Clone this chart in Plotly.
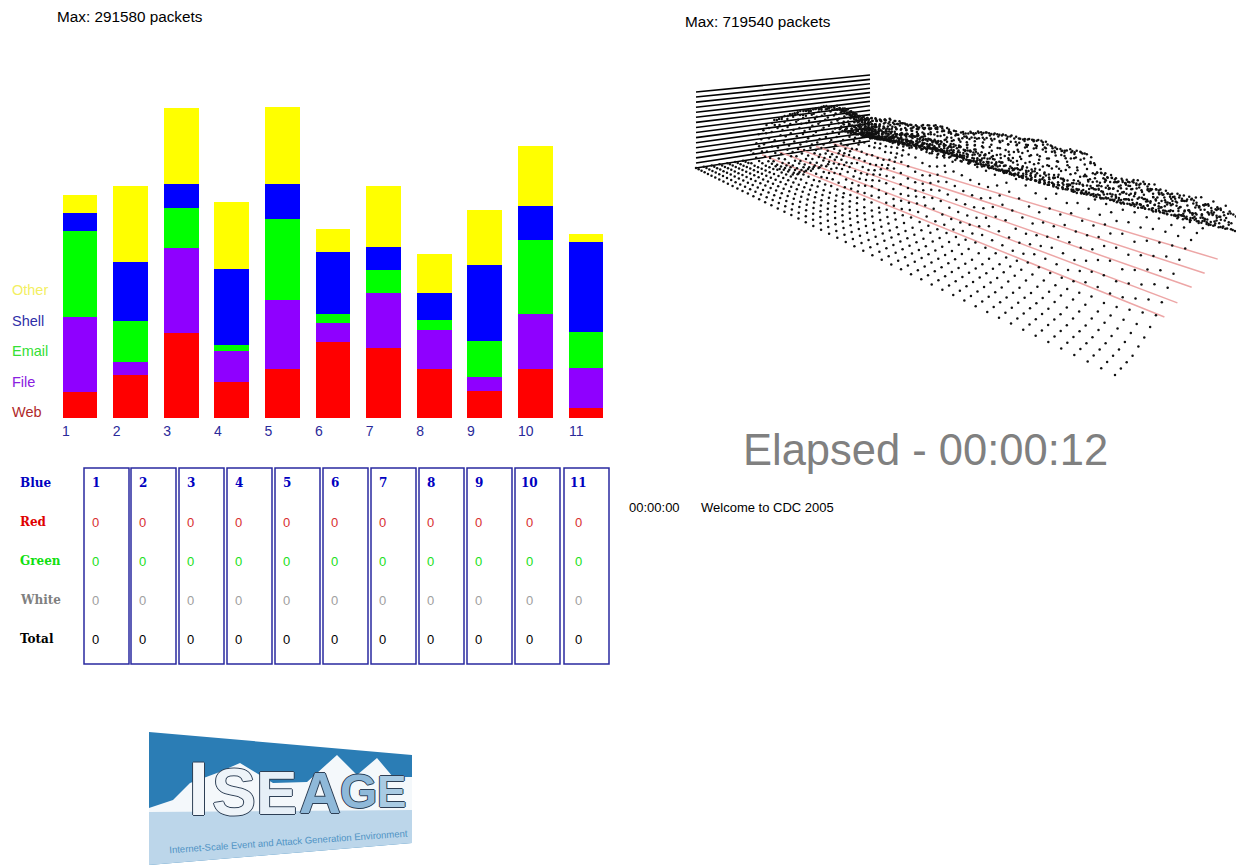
import numpy as np
import plotly.graph_objects as go

W, H = 1244, 865
OFF = 8                     # the page's own margin: the figure starts 8px in
PW, PH = W - OFF, H - OFF
# ---------- stacked bars (packets) ----------
teams = list(range(1, 12))
web   = [24400, 40300, 79700, 33800, 45900, 71300, 65600, 45900, 25300, 45900, 9400]
file_ = [70300, 12200, 79700, 29100, 64700, 17800, 51600, 36600, 13100, 51600, 37500]
email = [80600, 38400, 37500, 5600, 75900, 8400, 21600, 9400, 33800, 69400, 33800]
shell = [16900, 55300, 22500, 71300, 32800, 58100, 21600, 25300, 71300, 31900, 84400]
other = [16900, 71300, 71300, 62800, 72200, 21600, 57200, 36600, 51600, 56300, 7500]
bar_max = 291580
tick_labels = [str(t) for t in teams]
tick_offset = [-.277] * 9 + [-.19, -.19]

# ---------- scoreboard ----------
score_rows = ["Blue", "Red", "Green", "White", "Total"]
red_scores = [0] * 11
green_scores = [0] * 11
white_scores = [0] * 11
total_scores = [0] * 11

# ---------- 3D surface: heights in units of 10k packets ----------
surface_max = 719540
depth_flat = [0, .045, .09, .135]
depth_cols = [.18, .225, .27, .315, .36, .405, .45, .495, .54, .585, .63, .675, .72, .765, .81,
              .84, .87, .89, .91, .93, .95, .97, 1.0]
heights = [
[0,0,0,9,24,32,36,38,40,41,42,42,42,41,39,36,33,30,26,22,17,12,7],
[0,0,0,7,20,30,37,40,41,43,43,44,45,44,41,37,33,29,25,20,15,10,6],
[0,0,0,4,16,27,33,38,41,40,43,45,46,44,40,36,33,30,25,21,16,11,6],
[0,0,1,2,10,20,29,34,37,40,41,44,46,46,42,38,34,30,25,20,15,11,6],
[0,0,0,1,5,14,24,29,34,36,39,41,44,44,42,38,33,29,25,21,16,11,6],
[0,0,0,0,3,9,16,24,28,32,35,38,41,43,41,37,32,29,24,20,15,10,6],
[0,0,0,0,1,5,11,17,22,27,30,34,37,40,40,36,32,28,23,19,14,10,6],
[0,0,0,0,1,3,8,13,17,21,25,29,33,37,38,36,32,27,23,18,14,10,5],
[0,0,0,1,1,2,5,9,13,17,20,25,29,34,37,36,32,28,23,18,13,9,5],
[0,0,0,0,1,1,3,7,10,12,16,20,25,31,36,37,33,29,24,18,13,9,5],
[0,0,0,0,0,1,2,5,8,10,12,16,22,29,35,38,35,31,25,19,14,9,5],
[0,0,0,0,1,2,4,4,6,9,11,14,20,27,34,38,37,32,26,20,14,9,5],
[0,0,0,0,2,4,5,5,6,8,11,15,20,27,34,39,39,34,27,20,14,8,4],
[0,0,0,1,2,3,3,4,7,7,10,14,18,26,33,38,38,34,28,21,14,8,4],
[0,0,0,0,1,2,4,7,8,8,11,13,18,25,33,37,39,36,29,21,14,8,4],
[0,0,0,0,2,3,6,8,8,10,10,14,19,25,32,37,38,35,29,22,15,8,3],
[0,0,0,1,1,4,7,7,6,8,9,13,17,24,31,36,38,35,29,22,15,8,3],
[0,0,0,0,2,3,4,5,6,7,10,13,18,24,31,37,39,36,30,22,14,8,3],
[0,0,0,0,1,1,3,5,7,9,12,15,19,26,33,38,40,37,30,22,14,7,3],
[0,0,0,0,0,2,3,6,9,12,14,19,24,30,36,41,42,38,31,22,14,7,3],
[0,0,0,1,1,2,5,8,11,15,19,23,28,33,38,42,43,39,31,22,14,7,2],
[0,0,0,0,1,3,7,10,12,17,21,26,31,36,41,44,44,39,31,22,14,7,2],
[0,0,0,1,2,3,6,10,13,15,19,25,31,38,43,45,44,39,30,21,13,7,2],
[0,0,0,0,2,4,5,7,9,12,16,22,29,36,42,44,43,38,30,21,13,6,2],
[0,0,0,0,0,2,3,5,8,11,15,21,27,35,41,43,43,38,29,21,13,6,2],
[0,0,0,1,1,2,4,6,8,12,17,23,29,36,42,45,44,39,30,21,13,6,2],
[0,0,0,0,1,2,5,8,11,15,20,26,33,40,46,48,46,40,31,22,13,6,2],
[0,0,0,1,2,4,7,10,14,19,25,32,38,45,50,50,48,42,32,22,13,6,1],
[0,0,0,1,3,5,8,12,16,21,28,35,42,48,52,52,49,43,33,22,13,6,1],
[0,0,0,0,2,4,8,12,15,20,27,35,43,49,53,53,50,43,33,22,13,6,1],
[0,0,0,1,2,3,6,9,13,18,25,34,42,49,54,54,50,44,33,23,13,6,1],
[0,0,0,2,2,3,5,8,12,17,24,33,41,48,54,55,52,45,34,23,14,6,1],
[0,0,1,1,2,2,5,8,12,17,24,32,40,47,53,54,52,45,34,24,14,6,1],
[0,0,0,1,2,4,6,9,14,20,28,36,44,51,56,56,53,46,35,24,14,6,1],
[0,0,0,2,3,5,8,12,18,25,33,42,50,56,58,57,53,46,35,24,14,6,1],
[0,0,1,2,4,7,11,16,23,31,39,47,53,57,57,55,51,44,34,24,14,6,1],
[0,0,0,2,3,6,10,16,21,28,36,45,52,56,56,53,49,43,33,23,13,6,0],
[0,0,0,1,2,5,8,12,18,24,32,41,49,55,56,54,50,43,33,23,13,5,0],
[0,0,0,0,2,4,7,11,16,22,30,40,49,55,58,56,52,45,34,23,13,5,0],
[0,0,1,2,3,5,9,13,20,28,37,46,53,58,58,55,50,43,33,22,12,5,0],
[0,1,2,3,5,8,11,15,20,26,32,38,42,44,43,41,38,35,31,25,17,8,0],
[0,0,2,3,5,8,13,18,24,30,35,39,42,42,41,39,36,33,29,24,16,8,0],
[0,0,1,2,4,7,12,17,22,27,33,37,40,41,40,38,35,32,28,23,15,7,0],
[0,0,1,2,4,6,10,16,22,26,31,36,40,43,42,40,37,33,29,23,15,7,0],
[0,1,2,3,5,9,13,18,24,30,36,41,45,46,44,41,38,34,30,24,16,7,0],
[0,1,3,4,8,12,17,24,30,36,41,45,47,45,42,39,36,33,29,23,15,7,0],
[1,2,3,5,8,13,20,26,33,38,42,44,44,42,40,37,35,32,28,22,14,6,0],
[0,1,2,4,7,12,17,24,30,37,41,44,44,42,39,36,34,31,27,21,13,6,0],
[1,2,3,5,8,14,20,27,34,39,43,45,45,43,40,38,35,32,28,22,14,6,0],
[1,2,4,7,11,17,24,30,36,40,41,42,41,39,37,35,33,31,28,24,18,9,0],
[1,3,5,9,14,21,27,33,37,40,42,42,40,38,36,34,32,30,27,23,16,8,0],
[2,4,7,11,16,22,28,34,38,40,41,40,38,36,35,33,31,29,26,22,15,7,0],
]
# extra dots of the dark ridge, sitting between two neighbouring slices
ridge_depths = [.82, .85, .88, .91, .94, .97, .99]
ridge = [
[18,16,14,12,10,8,7],[17,15,14,11,10,8,6],[19,16,13,12,9,8,7],[17,16,14,11,9,7,6],[19,15,13,12,10,7,7],
[18,17,14,11,9,8,6],[18,15,14,12,9,7,7],[20,17,13,11,10,8,7],[18,17,15,12,10,8,7],[21,16,14,13,10,8,8],
[19,18,15,12,11,8,8],[22,17,15,14,10,9,8],[20,18,16,13,11,9,9],[23,19,15,14,11,10,9],[21,20,17,13,12,10,9],
[24,19,17,15,12,10,10],[22,21,17,14,12,11,10],[25,20,18,15,13,10,9],[23,22,17,16,12,11,9],[26,21,18,15,13,10,9],
[24,22,19,15,12,9,8],[26,21,18,16,12,9,7],[24,22,19,14,12,8,6],[27,21,18,15,10,8,5],[24,22,17,14,11,7,4],
[26,20,18,13,10,6,4],[23,21,16,14,9,6,3],[26,19,17,12,9,5,3],[23,20,15,13,8,5,2],[25,18,16,11,8,4,2],
[22,20,15,12,7,4,2],[25,19,15,10,8,4,1],[22,19,14,11,7,4,1],[25,18,15,10,7,3,1],[23,20,14,11,6,4,1],
[26,19,16,10,7,3,1],[23,21,15,11,6,3,1],[26,19,16,11,7,4,1],[24,21,15,12,7,3,1],[27,20,17,11,8,4,1],
[24,22,16,12,7,3,1],[28,20,17,12,8,4,1],[25,23,16,13,7,4,1],[28,21,18,12,8,3,1],[25,23,17,13,8,4,1],
[29,21,18,12,8,4,1],[26,24,17,14,7,4,1],[29,22,18,12,9,3,1],[26,24,17,14,8,4,1],[29,22,19,13,8,4,1],
[27,24,18,13,9,4,1],
]
# how far the ridge's second layer of dots stands above the first, slice by slice
ridge_lift = [6,3,8,4,7,2,6,9,3,7,5,9,2,8,4,10,3,7,9,4,8,2,6,10,3,8,5,9,2,7,4,10,6,3,9,5,8,2,7,10,4,9,3,8,5,10,2,7,4,9,6]
# dots of the dense hump at the wall, at half-slices and half-columns
hump_depths = [.34, .38, .43, .47, .52, .56, .61, .65, .70, .74, .79, .83, .86, .90]
hump = [
[16,28,34,37,39,41,42,42,42,41,40,37,34,28],
[14,26,33,38,41,42,43,44,45,44,41,37,33,27],
[10,22,31,36,40,41,43,45,46,45,41,37,33,27],
[6,15,25,32,36,39,41,43,45,45,43,38,34,27],
[3,10,19,27,31,35,38,40,43,44,42,38,33,27],
[2,6,13,20,26,30,34,37,40,42,41,38,33,27],
[1,3,8,14,20,25,29,32,36,39,40,37,33,26],
[0,2,5,11,15,19,23,27,31,35,38,37,33,26],
[1,2,4,7,11,15,19,23,27,32,36,37,33,26],
[1,1,2,5,9,11,14,18,23,29,35,38,34,27],
[0,1,2,4,7,9,11,14,20,27,34,38,35,28],
[2,3,4,4,5,8,10,13,18,25,33,38,37,29],
]
# dots of the wave crests above the ridge, from slice 12 on, at half-slices
crest_depths = [.74, .79, .83, .86, .90, .93]
crest = [
[24,31,37,39,33,22],[21,30,36,39,35,23],[22,29,35,38,35,24],[21,28,34,38,33,25],[22,28,35,39,34,24],
[23,29,36,39,35,23],[26,33,39,42,36,24],[29,36,41,43,38,24],[32,39,43,45,37,25],[35,41,46,45,37,24],
[35,41,44,44,36,23],[33,39,43,44,35,24],[33,40,44,45,36,24],[36,43,47,47,38,23],[41,47,49,49,39,24],
[45,49,52,50,40,24],[47,51,53,50,40,25],[47,52,54,51,40,25],[46,52,55,52,41,26],[45,51,54,52,41,25],
[47,53,55,53,42,26],[52,55,57,54,43,26],[55,57,58,55,43,27],[54,57,56,52,42,26],[53,56,55,51,41,25],
[53,57,57,52,42,26],[55,58,57,53,41,25],[50,51,50,45,38,26],[44,45,43,40,35,26],[42,42,41,38,34,26],
[42,43,41,39,34,25],[45,46,44,41,36,26],[47,46,43,40,36,26],[45,44,41,38,33,25],[44,43,40,37,33,24],
[44,44,41,38,33,24],[43,43,41,39,35,26],[41,41,38,36,34,26],[39,39,37,35,33,25],
]
wall_levels = list(range(0, 16))
red_depths = [.38, .48, .59, .69, .79]
red_level = 3

# projection of the surface's floor onto the page
A, B, C, D = map(np.array, ([696., 168.], [870., 141.], [1115., 375.], [1245., 233.]))
def project(p, v, z_packets=0.):
    xy = (1 - v) * (A + p * (C - A)) + v * (B + p * (D - B))
    s = (1 - p) * ((1 - v) * 76 + v * 66) + p * ((1 - v) * 105 + v * 85)
    return xy[0], xy[1] - s * z_packets / surface_max

n_slices = len(heights)
steps = np.linspace(2.6, 13.5, n_slices - 1)
slice_pos = np.concatenate([[0], np.cumsum(steps)]) / steps.sum()
half_pos = (slice_pos[:-1] + slice_pos[1:]) / 2

fig = go.Figure()
# bars
for name, vals, col in [("Web", web, "#ff0000"), ("File", file_, "#8f00ff"), ("Email", email, "#00ff00"),
                        ("Shell", shell, "#0000ff"), ("Other", other, "#ffff00")]:
    fig.add_trace(go.Bar(x=teams, y=vals, name=name, marker=dict(color=col, line=dict(width=0)),
                         showlegend=False, xaxis="x", yaxis="y"))
# wall
for k in wall_levels:
    z = k * surface_max / 15
    pts = [project(0, 0, z), project(0, 1, z)]
    fig.add_trace(go.Scatter(x=[q[0] for q in pts], y=[q[1] for q in pts], mode="lines",
                             line=dict(color="#000", width=1.6), showlegend=False, xaxis="x2", yaxis="y2"))
# red lines
for v in red_depths:
    z = red_level * 1e4
    pts = [project(0, v, z), project(1.0, v, z)]
    fig.add_trace(go.Scatter(x=[q[0] for q in pts], y=[q[1] for q in pts], mode="lines",
                             line=dict(color="#eda6a6", width=1.5), showlegend=False, xaxis="x2", yaxis="y2"))
# dots
xs, ys = [], []
def dot(p, v, h):
    a, b = project(p, v, h * 1e4)
    xs.append(a); ys.append(b)
for p, row in zip(slice_pos, heights):
    for v in depth_flat:
        dot(p, v, 0)
    for v, h in zip(depth_cols, row):
        dot(p, v, h)
for p, q, row, lift in zip(half_pos, slice_pos, ridge, ridge_lift):
    for v, h in zip(ridge_depths, row):
        dot(p, v, h)
        dot(q, v, h + lift)
for p, row in zip(half_pos, hump):
    for v, h in zip(hump_depths, row):
        dot(p, v, h)
for p, row in zip(half_pos[12:], crest):
    for v, h in zip(crest_depths, row):
        dot(p, v, h)
fig.add_trace(go.Scatter(x=xs, y=ys, mode="markers", marker=dict(color="#111", size=2.5, line=dict(width=0)),
                         showlegend=False, xaxis="x2", yaxis="y2"))

SANS, SERIF = "Liberation Sans", "DejaVu Serif"
ann = []
def text(x, y, s, size=13, color="#000", family=SANS, anchor="left", angle=0, shadow=None):
    f = dict(size=size, color=color, family=family)
    if shadow: f["shadow"] = shadow
    ann.append(dict(x=x, y=y, xref="x2", yref="y2", text=s, showarrow=False, xanchor=anchor, yanchor="middle",
                    font=f, textangle=angle, borderpad=0, borderwidth=0))

text(57, 16, "Max: 291580 packets", 15.3)
text(685, 21, "Max: 719540 packets", 15.3)
for y, s, c in [(290, "Other", "#f3ef62"), (321, "Shell", "#2f2fa8"), (351, "Email", "#35e035"),
                (382, "File", "#8a20e0"), (412, "Web", "#b02a2a")]:
    text(12, y, s, 14.5, c)
text(743, 450, "Elapsed - 00:00:12", 43.5, "#808080")
text(629, 507, "00:00:00", 13)
text(701, 507, "Welcome to CDC 2005", 13)

# scoreboard
box_left = [84, 131, 179, 227, 275, 323, 371, 419, 467, 515, 564]
shapes = []
for x0 in box_left:
    shapes.append(dict(type="rect", xref="x2", yref="y2", x0=x0, x1=x0 + 45, y0=468, y1=664,
                       line=dict(color="#2a2aa0", width=1.5), fillcolor="rgba(0,0,0,0)"))
row_y = [483, 522, 561, 600, 639]
row_col = ["#0000c0", "#e00000", "#10e010", "#808080", "#000000"]
for y, s, c in zip(row_y, score_rows, row_col):
    text(20, y, "<b>%s</b>" % s, 12, c, SERIF)
for i, x0 in enumerate(box_left):
    cx = x0 + 11.5 + (3 if i >= 9 else 0)
    text(cx, row_y[0], "<b>%d</b>" % teams[i], 12, "#0000c0", SERIF, "center")
    for y, c, arr in [(row_y[1], "#d83030", red_scores), (row_y[2], "#20e020", green_scores),
                      (row_y[3], "#a0a0a0", white_scores), (row_y[4], "#000", total_scores)]:
        text(cx - 0.5, y, str(arr[i]), 13, c, SANS, "center")

# logo art
def poly(pts, fill):
    d = "M" + " L".join("%g,%g" % q for q in pts) + " Z"
    shapes.append(dict(type="path", path=d, xref="x2", yref="y2", fillcolor=fill, line=dict(width=0), layer="below"))
poly([(149, 732), (412, 755), (412, 843), (149, 865)], "#2b7db5")
poly([(149, 808), (173, 800), (190, 783), (217, 773), (240, 763), (273, 783), (307, 782), (337, 755),
      (357, 775), (377, 758), (393, 777), (412, 777), (412, 812), (149, 812)], "#f4f8fb")
poly([(149, 812), (412, 810), (412, 843), (149, 865)], "#bcd6ea")
OUT = "1px 0 #2d3f55, -1px 0 #2d3f55, 0 1px #2d3f55, 0 -1px #2d3f55"
for ch, x, y, sz, col in [("I", 198, 788, 76, "#f2f6fa"), ("S", 234, 792, 66, "#eef4f9"), ("E", 276, 792, 62, "#e6eff7"),
                          ("A", 320, 792, 58, "#8fb9d9"), ("G", 358, 791, 48, "#8fb9d9"), ("E", 391, 791, 44, "#a9cbe3")]:
    text(x, y, "<b>%s</b>" % ch, sz, col, SANS, "center", shadow=OUT)
text(288, 841, "Internet-Scale Event and Attack Generation Environment", 9.5, "#4f93c4", SANS, "center", angle=-4)

px = lambda v: (v - OFF) / PW
py = lambda v: 1 - (v - OFF) / PH
fig.update_layout(
    width=PW, height=PH, margin=dict(l=0, r=0, t=0, b=0), paper_bgcolor="#fff", plot_bgcolor="rgba(0,0,0,0)",
    barmode="stack", bargap=0.31, showlegend=False, annotations=ann, shapes=shapes,
    xaxis=dict(domain=[px(54.7), px(611.3)], range=[.5, 11.5], showgrid=False, zeroline=False, showline=False,
               tickmode="array", tickvals=[t + o for t, o in zip(teams, tick_offset)], ticktext=tick_labels,
               ticks="", ticklen=0, ticklabelstandoff=3, tickfont=dict(family=SANS, size=14, color="#2a2a9a"), anchor="y"),
    yaxis=dict(domain=[py(418), py(107)], range=[0, bar_max], visible=False, anchor="x"),
    xaxis2=dict(domain=[0, 1], range=[OFF, W], visible=False, anchor="y2"),
    yaxis2=dict(domain=[0, 1], range=[H, OFF], visible=False, anchor="x2"),
)
fig.write_html("out.html")
